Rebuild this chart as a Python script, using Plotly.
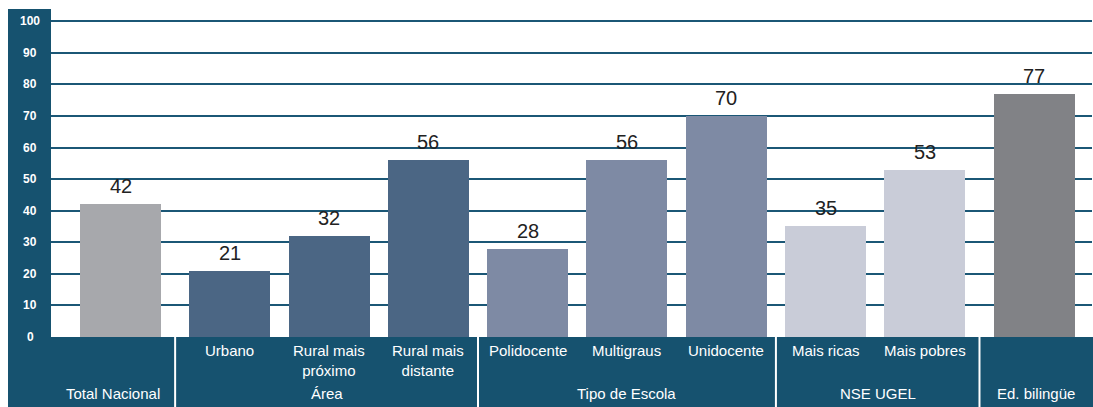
import plotly.graph_objects as go

# ---- data ----
categories = ["Total Nacional", "Urbano", "Rural mais<br>próximo", "Rural mais<br>distante",
              "Polidocente", "Multigraus", "Unidocente", "Mais ricas", "Mais pobres", "Ed. bilingüe"]
values = [42, 21, 32, 56, 28, 56, 70, 35, 53, 77]
groups = ["Total Nacional", "Área", "Área", "Área", "Tipo de Escola", "Tipo de Escola",
          "Tipo de Escola", "NSE UGEL", "NSE UGEL", "Ed. bilingüe"]
group_colors = {"Total Nacional": "#a7a8ac", "Área": "#4b6684", "Tipo de Escola": "#7e8aa4",
                "NSE UGEL": "#c9ccd8", "Ed. bilingüe": "#818286"}
y_ticks = [0, 10, 20, 30, 40, 50, 60, 70, 80, 90, 100]

# ---- layout constants ----
W, H = 1093, 407
ML, MR, MT, MB = 51, 1, 18, 70
TEAL = "#16526f"
GRID = "#1b5776"

# x positions: single-bar groups get slightly more padding
xpos = []
p = 0.0
for i, g in enumerate(groups):
    if i > 0:
        p += 1.0
        if g != groups[i - 1] and (groups.count(g) == 1 or groups.count(groups[i - 1]) == 1):
            p += 0.1
    xpos.append(p)

colors = [group_colors[g] for g in groups]

fig = go.Figure()
fig.add_trace(go.Bar(x=xpos, y=values, width=0.816, marker=dict(color=colors, line=dict(width=0)),
                     hoverinfo="skip", showlegend=False))

pw = W - ML - MR
ph = H - MT - MB

def px_to_paper_x(px):
    return (px - ML) / pw

def px_to_paper_y(py):
    return (H - MB - py) / ph

shapes = []
# left strip
shapes.append(dict(type="rect", xref="paper", yref="paper", x0=px_to_paper_x(8), x1=0,
                   y0=px_to_paper_y(H), y1=px_to_paper_y(9), fillcolor=TEAL, line=dict(width=0),
                   layer="below"))
# bottom band
shapes.append(dict(type="rect", xref="paper", yref="paper", x0=0, x1=px_to_paper_x(W),
                   y0=px_to_paper_y(H), y1=0, fillcolor=TEAL, line=dict(width=0), layer="below"))
# group separators
for i in range(1, len(groups)):
    if groups[i] != groups[i - 1]:
        xm = (xpos[i] + xpos[i - 1]) / 2
        shapes.append(dict(type="line", xref="x", yref="paper", x0=xm, x1=xm,
                           y0=px_to_paper_y(H), y1=0, line=dict(color="white", width=2),
                           layer="above"))

annotations = []
# y tick labels centered in strip
for t in y_ticks:
    annotations.append(dict(x=px_to_paper_x(30), xref="paper", y=t, yref="y", text=f"<b>{t}</b>",
                            showarrow=False, xanchor="center", yanchor="middle",
                            font=dict(family="Liberation Sans, Arial", size=12, color="white")))
# value labels
for x, v in zip(xpos, values):
    annotations.append(dict(x=x, y=v, xref="x", yref="y", text=str(v), showarrow=False,
                            xanchor="center", yanchor="bottom", yshift=5,
                            font=dict(family="Liberation Sans, Arial", size=20, color="#222222")))
# category labels
label_font = dict(family="Liberation Sans Narrow, Arial Narrow, Liberation Sans", size=15, color="white")
for x, c, g in zip(xpos, categories, groups):
    if groups.count(g) == 1:
        continue
    annotations.append(dict(x=x, y=0, xref="x", yref="paper", text=c, showarrow=False,
                            xanchor="center", yanchor="top", yshift=-3, font=label_font))
# group labels
seen = []
for g in groups:
    if g in seen:
        continue
    seen.append(g)
    xs = [x for x, gg in zip(xpos, groups) if gg == g]
    idx = [i for i, gg in enumerate(groups) if gg == g]
    lo = (xpos[idx[0]] + xpos[idx[0] - 1]) / 2 if idx[0] > 0 else None
    hi = (xpos[idx[-1]] + xpos[idx[-1] + 1]) / 2 if idx[-1] < len(groups) - 1 else None
    if lo is None:
        lo = xs[0] - 0.7
    if hi is None:
        hi = xs[-1] + 0.58
    annotations.append(dict(x=(lo + hi) / 2, y=0, xref="x", yref="paper", text=g, showarrow=False,
                            xanchor="center", yanchor="middle", yshift=-56, font=label_font))

fig.update_layout(
    width=W, height=H, margin=dict(l=ML, r=MR, t=MT, b=MB, pad=0),
    paper_bgcolor="white", plot_bgcolor="white",
    xaxis=dict(range=[-0.70, 9.783], showticklabels=False, showgrid=False, zeroline=False,
               showline=False, ticks="", fixedrange=True),
    yaxis=dict(range=[0, 101], tickvals=y_ticks[1:], showticklabels=False, showgrid=True,
               gridcolor=GRID, gridwidth=2, zeroline=False, showline=False, ticks="",
               fixedrange=True),
    shapes=shapes, annotations=annotations, bargap=0,
)

fig.write_html("out.html", config={"displayModeBar": False})
